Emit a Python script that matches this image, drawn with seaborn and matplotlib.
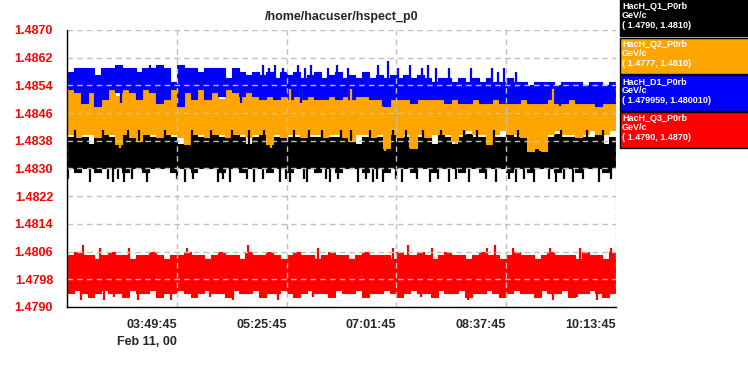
import numpy as np
import pandas as pd
import matplotlib
matplotlib.use("Agg")
import matplotlib.pyplot as plt
import matplotlib.dates as mdates
from matplotlib.patches import Rectangle
import seaborn as sns

# sample grid, 6 min steps from 02:13:45 to 10:13:45 (Feb 11, 2000)
times = pd.date_range("2000-02-11 02:13:45", periods=81, freq="6min")

# upper / lower envelope of each trace per 6 min step
blue_hi = [
    1.4858, 1.4859, 1.4859, 1.4859, 1.4857, 1.4859, 1.4859, 1.4860, 1.4859, 1.4859,
    1.4858, 1.4859, 1.4859, 1.4860, 1.4859, 1.4855, 1.4860, 1.4859, 1.4859, 1.4858,
    1.4859, 1.4859, 1.4859, 1.4856, 1.4859, 1.4858, 1.4857, 1.4858, 1.4857, 1.4858,
    1.4856, 1.4858, 1.4857, 1.4858, 1.4856, 1.4857, 1.4858, 1.4856, 1.4857, 1.4858,
    1.4856, 1.4857, 1.4856, 1.4858, 1.4856, 1.4857, 1.4856, 1.4857, 1.4856, 1.4857,
    1.4856, 1.4857, 1.4856, 1.4855, 1.4856, 1.4856, 1.4855, 1.4856, 1.4855, 1.4856,
    1.4855, 1.4856, 1.4855, 1.4855, 1.4856, 1.4855, 1.4855, 1.4854, 1.4855, 1.4855,
    1.4855, 1.4854, 1.4855, 1.4855, 1.4855, 1.4854, 1.4855, 1.4855, 1.4854, 1.4855]
blue_lo = [
    1.4853, 1.4852, 1.4849, 1.4852, 1.4848, 1.4850, 1.4853, 1.4852, 1.4853, 1.4852,
    1.4850, 1.4853, 1.4852, 1.4849, 1.4850, 1.4853, 1.4848, 1.4852, 1.4850, 1.4853,
    1.4850, 1.4852, 1.4851, 1.4853, 1.4852, 1.4851, 1.4852, 1.4851, 1.4850, 1.4851,
    1.4850, 1.4851, 1.4850, 1.4851, 1.4850, 1.4851, 1.4850, 1.4850, 1.4851, 1.4850,
    1.4851, 1.4850, 1.4851, 1.4851, 1.4850, 1.4850, 1.4848, 1.4850, 1.4850, 1.4850,
    1.4849, 1.4850, 1.4850, 1.4850, 1.4850, 1.4849, 1.4850, 1.4849, 1.4849, 1.4850,
    1.4849, 1.4849, 1.4850, 1.4849, 1.4849, 1.4849, 1.4850, 1.4849, 1.4849, 1.4849,
    1.4850, 1.4849, 1.4849, 1.4850, 1.4849, 1.4849, 1.4849, 1.4848, 1.4849, 1.4849]
orange_hi = [
    1.4853, 1.4853, 1.4853, 1.4853, 1.4853, 1.4853, 1.4853, 1.4851, 1.4853, 1.4853,
    1.4853, 1.4853, 1.4853, 1.4853, 1.4853, 1.4853, 1.4853, 1.4853, 1.4853, 1.4853,
    1.4853, 1.4853, 1.4850, 1.4853, 1.4853, 1.4853, 1.4852, 1.4851, 1.4851, 1.4851,
    1.4851, 1.4851, 1.4851, 1.4851, 1.4851, 1.4851, 1.4851, 1.4851, 1.4851, 1.4851,
    1.4851, 1.4851, 1.4851, 1.4851, 1.4851, 1.4851, 1.4851, 1.4851, 1.4851, 1.4851,
    1.4850, 1.4851, 1.4851, 1.4851, 1.4851, 1.4850, 1.4850, 1.4850, 1.4850, 1.4850,
    1.4850, 1.4850, 1.4850, 1.4850, 1.4850, 1.4850, 1.4850, 1.4850, 1.4850, 1.4850,
    1.4850, 1.4850, 1.4850, 1.4850, 1.4850, 1.4850, 1.4850, 1.4850, 1.4850, 1.4850]
orange_lo = [
    1.4840, 1.4839, 1.4840, 1.4840, 1.4839, 1.4840, 1.4840, 1.4837, 1.4840, 1.4839,
    1.4838, 1.4840, 1.4840, 1.4839, 1.4840, 1.4840, 1.4839, 1.4837, 1.4840, 1.4840,
    1.4839, 1.4840, 1.4840, 1.4839, 1.4840, 1.4840, 1.4839, 1.4840, 1.4840, 1.4837,
    1.4840, 1.4839, 1.4840, 1.4840, 1.4839, 1.4840, 1.4840, 1.4839, 1.4840, 1.4840,
    1.4839, 1.4838, 1.4840, 1.4840, 1.4839, 1.4840, 1.4836, 1.4840, 1.4839, 1.4840,
    1.4836, 1.4840, 1.4839, 1.4840, 1.4840, 1.4840, 1.4838, 1.4840, 1.4841, 1.4840,
    1.4840, 1.4837, 1.4840, 1.4841, 1.4840, 1.4840, 1.4839, 1.4835, 1.4836, 1.4835,
    1.4840, 1.4841, 1.4840, 1.4840, 1.4839, 1.4840, 1.4841, 1.4840, 1.4840, 1.4841]
black_hi = [
    1.4839, 1.4840, 1.4839, 1.4837, 1.4839, 1.4840, 1.4839, 1.4839, 1.4840, 1.4839,
    1.4839, 1.4840, 1.4839, 1.4839, 1.4840, 1.4839, 1.4837, 1.4839, 1.4840, 1.4839,
    1.4839, 1.4840, 1.4839, 1.4839, 1.4840, 1.4839, 1.4837, 1.4839, 1.4840, 1.4839,
    1.4839, 1.4840, 1.4839, 1.4839, 1.4840, 1.4839, 1.4839, 1.4840, 1.4839, 1.4839,
    1.4840, 1.4839, 1.4837, 1.4839, 1.4840, 1.4839, 1.4839, 1.4840, 1.4839, 1.4839,
    1.4840, 1.4839, 1.4839, 1.4837, 1.4840, 1.4839, 1.4837, 1.4839, 1.4840, 1.4839,
    1.4839, 1.4840, 1.4839, 1.4839, 1.4840, 1.4839, 1.4839, 1.4840, 1.4836, 1.4839,
    1.4839, 1.4840, 1.4839, 1.4839, 1.4840, 1.4839, 1.4839, 1.4840, 1.4837, 1.4839]
black_lo = [
    1.4830, 1.4829, 1.4830, 1.4830, 1.4829, 1.4830, 1.4830, 1.4830, 1.4829, 1.4830,
    1.4830, 1.4829, 1.4830, 1.4830, 1.4830, 1.4829, 1.4830, 1.4830, 1.4829, 1.4830,
    1.4830, 1.4830, 1.4829, 1.4830, 1.4830, 1.4829, 1.4830, 1.4830, 1.4830, 1.4829,
    1.4830, 1.4830, 1.4829, 1.4830, 1.4830, 1.4830, 1.4829, 1.4830, 1.4830, 1.4829,
    1.4830, 1.4830, 1.4830, 1.4829, 1.4830, 1.4830, 1.4829, 1.4830, 1.4830, 1.4830,
    1.4829, 1.4830, 1.4830, 1.4829, 1.4830, 1.4830, 1.4830, 1.4829, 1.4830, 1.4830,
    1.4829, 1.4830, 1.4830, 1.4830, 1.4829, 1.4830, 1.4830, 1.4829, 1.4830, 1.4830,
    1.4830, 1.4829, 1.4830, 1.4830, 1.4829, 1.4830, 1.4830, 1.4830, 1.4829, 1.4830]
red_hi = [
    1.4805, 1.4806, 1.4805, 1.4805, 1.4804, 1.4805, 1.4806, 1.4805, 1.4805, 1.4804,
    1.4805, 1.4805, 1.4806, 1.4805, 1.4804, 1.4805, 1.4805, 1.4806, 1.4805, 1.4805,
    1.4804, 1.4805, 1.4806, 1.4805, 1.4805, 1.4804, 1.4806, 1.4805, 1.4805, 1.4806,
    1.4805, 1.4804, 1.4805, 1.4806, 1.4805, 1.4805, 1.4804, 1.4805, 1.4806, 1.4805,
    1.4805, 1.4804, 1.4805, 1.4806, 1.4805, 1.4805, 1.4805, 1.4804, 1.4806, 1.4805,
    1.4805, 1.4806, 1.4805, 1.4804, 1.4805, 1.4806, 1.4805, 1.4805, 1.4804, 1.4805,
    1.4806, 1.4805, 1.4805, 1.4804, 1.4805, 1.4806, 1.4805, 1.4805, 1.4804, 1.4805,
    1.4806, 1.4805, 1.4805, 1.4805, 1.4804, 1.4806, 1.4805, 1.4805, 1.4804, 1.4806]
red_lo = [
    1.4794, 1.4795, 1.4794, 1.4793, 1.4794, 1.4795, 1.4794, 1.4794, 1.4793, 1.4795,
    1.4794, 1.4794, 1.4795, 1.4793, 1.4794, 1.4794, 1.4795, 1.4794, 1.4793, 1.4794,
    1.4795, 1.4794, 1.4794, 1.4793, 1.4795, 1.4794, 1.4794, 1.4795, 1.4793, 1.4794,
    1.4794, 1.4795, 1.4794, 1.4793, 1.4794, 1.4795, 1.4794, 1.4794, 1.4793, 1.4795,
    1.4794, 1.4794, 1.4795, 1.4793, 1.4794, 1.4794, 1.4795, 1.4794, 1.4793, 1.4794,
    1.4795, 1.4794, 1.4794, 1.4793, 1.4795, 1.4794, 1.4794, 1.4795, 1.4793, 1.4794,
    1.4794, 1.4795, 1.4794, 1.4793, 1.4794, 1.4795, 1.4794, 1.4794, 1.4793, 1.4795,
    1.4794, 1.4794, 1.4795, 1.4793, 1.4794, 1.4794, 1.4795, 1.4794, 1.4793, 1.4794]

# single-sample spikes sticking out of the bands
blue_spike_t = ["02:29", "03:01", "03:26", "03:52", "03:55", "04:46", "05:05", "05:10",
                "05:16", "05:23", "05:36", "05:38", "05:42", "05:47", "06:02", "06:10",
                "06:19", "06:46", "06:50", "06:54", "07:03", "07:14", "07:24", "07:29",
                "07:36", "07:48", "08:07", "08:25", "08:31", "08:36", "08:46", "09:25", "09:59"]
blue_spike_v = [1.4849, 1.4849, 1.4860, 1.4848, 1.4860, 1.4849, 1.4860, 1.4859,
                1.4860, 1.4859, 1.4860, 1.4849, 1.4859, 1.4860, 1.4859, 1.4860,
                1.4859, 1.4860, 1.4848, 1.4861, 1.4859, 1.4860, 1.4859, 1.4860,
                1.4859, 1.4859, 1.4859, 1.4859, 1.4858, 1.4859, 1.4858, 1.4848, 1.4848]
orange_spike_t = ["03:00", "03:58", "05:12", "05:29", "05:38", "06:22", "06:52",
                  "07:14", "07:54", "09:07", "09:19"]
orange_spike_v = [1.4836, 1.4837, 1.4836, 1.4853, 1.4853, 1.4853, 1.4835,
                  1.4836, 1.4837, 1.4835, 1.4853]
black_spike_t = ["02:15", "02:21", "02:34", "02:45", "02:50", "02:54", "02:58", "03:04",
                 "03:07", "03:11", "03:17", "03:24", "03:39", "03:50", "03:57", "04:03",
                 "04:04", "04:20", "04:26", "04:30", "04:36", "04:38", "04:51", "04:53",
                 "04:57", "05:05", "05:06", "05:20", "05:25", "05:29", "05:32", "05:41",
                 "05:44", "05:45", "05:57", "06:00", "06:04", "06:11", "06:13", "06:22",
                 "06:28", "06:35", "06:39", "06:41", "06:45", "06:50", "06:59", "07:01",
                 "07:07", "07:10", "07:20", "07:25", "07:31", "07:38", "07:41", "07:48",
                 "07:54", "08:01", "08:05", "08:12", "08:20", "08:27", "08:29", "08:40",
                 "08:46", "08:48", "08:53", "09:02", "09:15", "09:21", "09:26", "09:28",
                 "09:36", "09:45", "09:48", "09:59", "10:02", "10:09"]
black_spike_v = [1.4827, 1.4841, 1.4826, 1.4841, 1.4827, 1.4826, 1.4827, 1.4826,
                 1.4841, 1.4827, 1.4841, 1.4826, 1.4841, 1.4827, 1.4826, 1.4841,
                 1.4827, 1.4841, 1.4826, 1.4827, 1.4826, 1.4841, 1.4827, 1.4841,
                 1.4826, 1.4827, 1.4841, 1.4826, 1.4827, 1.4826, 1.4841, 1.4827,
                 1.4826, 1.4841, 1.4841, 1.4827, 1.4826, 1.4827, 1.4841, 1.4841,
                 1.4826, 1.4827, 1.4841, 1.4826, 1.4827, 1.4826, 1.4841, 1.4827,
                 1.4826, 1.4841, 1.4827, 1.4841, 1.4826, 1.4827, 1.4841, 1.4826,
                 1.4827, 1.4841, 1.4826, 1.4841, 1.4827, 1.4841, 1.4826, 1.4827,
                 1.4826, 1.4841, 1.4827, 1.4826, 1.4827, 1.4826, 1.4841, 1.4827,
                 1.4826, 1.4827, 1.4841, 1.4826, 1.4841, 1.4827]
red_spike_t = ["02:26", "02:28", "02:43", "02:46", "02:55", "03:08", "03:16", "03:45",
               "03:59", "04:19", "04:39", "04:52", "05:18", "05:49", "05:53", "06:59",
               "07:12", "07:23", "07:33", "08:04", "08:21", "08:28", "08:44", "09:16",
               "09:19", "09:40", "09:42", "09:57", "10:09"]
red_spike_v = [1.4792, 1.4808, 1.4807, 1.4792, 1.4793, 1.4807, 1.4792, 1.4792,
               1.4807, 1.4793, 1.4792, 1.4808, 1.4792, 1.4793, 1.4807, 1.4807,
               1.4808, 1.4793, 1.4807, 1.4792, 1.4807, 1.4808, 1.4807, 1.4807,
               1.4792, 1.4793, 1.4807, 1.4792, 1.4807]

yticks = [1.4790, 1.4798, 1.4806, 1.4814, 1.4822, 1.4830, 1.4838, 1.4846,
          1.4854, 1.4862, 1.4870]
xtick_times = ["02:13:45", "03:49:45", "05:25:45", "07:01:45", "08:37:45", "10:13:45"]
xtick_labels = ["", "03:49:45\nFeb 11, 00", "05:25:45", "07:01:45", "08:37:45", "10:13:45"]

legend_names = ["HacH_Q1_P0rb", "HacH_Q2_P0rb", "HacH_D1_P0rb", "HacH_Q3_P0rb"]
legend_units = ["GeV/c", "GeV/c", "GeV/c", "GeV/c"]
legend_ranges = ["( 1.4790, 1.4810)", "( 1.4777, 1.4810)",
                 "( 1.479959, 1.480010)", "( 1.4790, 1.4870)"]
legend_colors = ["#000000", "#ffa500", "#0000ff", "#ff0000"]

sns.set_style("white")
plt.rcParams['font.family'] = ['Liberation Sans', 'DejaVu Sans']

fig = plt.figure(figsize=(7.48, 3.75), dpi=100)
ax = fig.add_axes([67/748, 68/375, 549/748, 277/375])

def to_times(lst):
    return pd.to_datetime(["2000-02-11 " + s for s in lst])

# draw order: red, black, orange, blue (blue sits on top of orange, orange on black)
bands = [
    ("#ff0000", red_hi, red_lo, red_spike_t, red_spike_v),
    ("#000000", black_hi, black_lo, black_spike_t, black_spike_v),
    ("#ffa500", orange_hi, orange_lo, orange_spike_t, orange_spike_v),
    ("#0000ff", blue_hi, blue_lo, blue_spike_t, blue_spike_v),
]
for k, (color, hi, lo, st, sv) in enumerate(bands):
    z = 1 + 0.1 * k
    hi_ext = np.append(hi, hi[-1])
    lo_ext = np.append(lo, lo[-1])
    ax.fill_between(times, lo_ext, hi_ext, step="post", color=color, linewidth=0, zorder=z)
    sns.lineplot(x=times, y=hi_ext, drawstyle="steps-post", color=color, lw=0.8,
                 ax=ax, zorder=z)
    sns.lineplot(x=times, y=lo_ext, drawstyle="steps-post", color=color, lw=0.8,
                 ax=ax, zorder=z)

# spikes on top of all bands
for color, hi, lo, st, sv in bands:
    base = np.median((np.array(hi) + np.array(lo)) / 2)
    ax.vlines(to_times(st), base, sv, color=color, lw=1.6, zorder=1.6)

ax.set_xlabel("")
ax.set_ylabel("")
ax.set_ylim(1.4790, 1.4870)
ax.set_yticks(yticks)
ax.set_yticklabels([f"{v:.4f}" for v in yticks], color="red", fontsize=9, fontweight="bold")
ax.set_xlim(mdates.date2num(times[0]), mdates.date2num(times[-1]))
ax.set_xticks(mdates.date2num(to_times(xtick_times)))
ax.set_xticklabels(xtick_labels, fontsize=9, fontweight="bold", ha="right", linespacing=1.45)
ax.tick_params(axis="y", length=7, width=1, color="black", pad=3)
ax.tick_params(axis="x", length=5, width=1, color="black", pad=4)

ax.grid(True, color="#c0c0c0", linestyle=(0, (4, 3)), linewidth=1)
ax.set_axisbelow(False)
sns.despine(ax=ax)
for side in ["left", "bottom"]:
    ax.spines[side].set_color("black")
    ax.spines[side].set_linewidth(1)
    ax.spines[side].set_zorder(3)

ax.set_title("/home/hacuser/hspect_p0", fontsize=9, fontweight="bold", pad=7)

# legend boxes at the right
box_tops = [0, 38, 75, 112]
for top, name, unit, rng, col in zip(box_tops, legend_names, legend_units,
                                      legend_ranges, legend_colors):
    fig.add_artist(Rectangle((620/748, 1 - (top + 36)/375), 130/748, 36/375,
                             transform=fig.transFigure, facecolor=col,
                             edgecolor="black", lw=1))
    fig.text(622/748, 1 - (top + 2)/375, f"{name}\n{unit}\n{rng}", color="white",
             fontsize=6.5, fontweight="bold", va="top", ha="left", linespacing=1.05)

fig.savefig("out.png", dpi=100)
